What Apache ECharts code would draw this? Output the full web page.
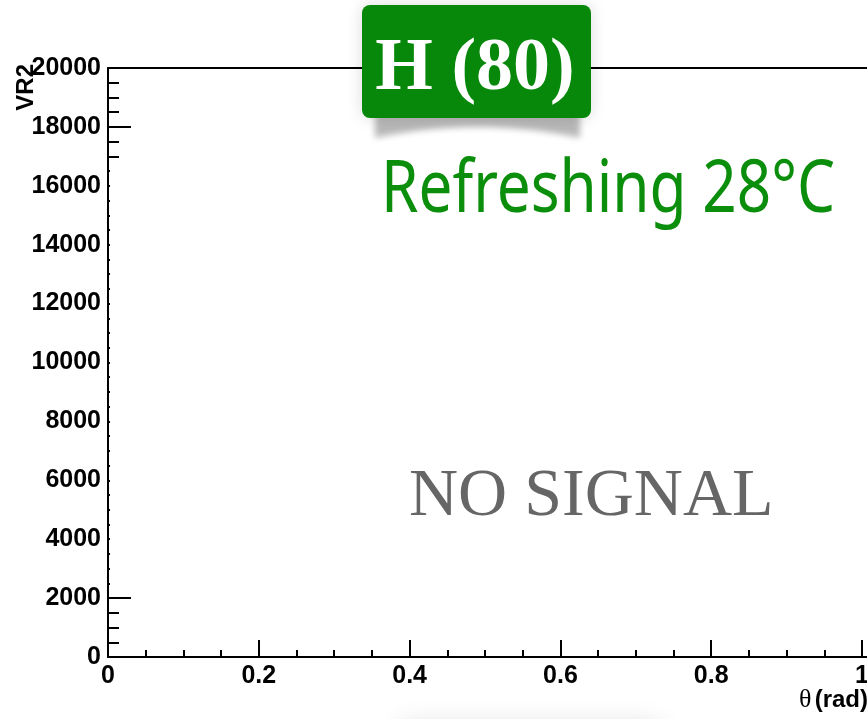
<!DOCTYPE html>
<html>
<head>
<meta charset="utf-8">
<script src="https://cdn.jsdelivr.net/npm/echarts@6/dist/echarts.min.js"></script>
<style>
  html, body { margin: 0; padding: 0; background: #fff; }
  #chart { width: 867px; height: 719px; }
</style>
</head>
<body>
<div id="chart"></div>
<script>
// θ axis (rad): labelled ticks and the small ticks between them
const xMajorTicks = [0, 0.2, 0.4, 0.6, 0.8, 1];
const xMinorTicks = [0.05, 0.1, 0.15, 0.25, 0.3, 0.35, 0.45, 0.5, 0.55,
                     0.65, 0.7, 0.75, 0.85, 0.9, 0.95];
// VR2 axis: labelled ticks and the small ticks between them
const yMajorTicks = [0, 2000, 4000, 6000, 8000, 10000, 12000, 14000, 16000, 18000, 20000];
const yMinorTicks = [500, 1000, 1500, 2500, 3000, 3500, 4500, 5000, 5500,
                     6500, 7000, 7500, 8500, 9000, 9500, 10500, 11000, 11500,
                     12500, 13000, 13500, 14500, 15000, 15500, 16500, 17000, 17500,
                     18500, 19000, 19500];
const xAxisMax = 1.0066;   // frame runs a hair past the last labelled tick
const yAxisMax = 20000;

// Received signal samples: nothing has arrived
const signalPoints = [];

// Overlay texts
const badgeText = 'H (80)';
const statusText = 'Refreshing 28°C';
const emptyText = 'NO SIGNAL';
const yTitle = 'VR2';

const BLACK = '#000';
const GREEN_BADGE = '#07880a';
const GREEN_TEXT = '#0b8e0b';

function measure(str, font) {
  const ctx = document.createElement('canvas').getContext('2d');
  ctx.font = font;
  return ctx.measureText(str).width;
}
const statusFont = '73px "Noto Sans"';
const statusScale = 454 / measure(statusText, statusFont);

const tickStyle = { color: BLACK, width: 2 };
const labelFont = {
  fontFamily: 'Liberation Sans', fontWeight: 'bold', fontSize: 25, color: BLACK,
  formatter: function (v) { return String(v); }
};

function valueAxis(extra) {
  return Object.assign({
    type: 'value',
    axisLine: { show: false },
    axisTick: { show: false },
    axisLabel: { show: false },
    splitLine: { show: false }
  }, extra);
}

// Badge shadow: a curled strip whose bottom edge lifts in the middle
function curlShadowPoints(x0, x1, top, sideBottom, midBottom, shift) {
  const pts = [[x0, top - shift], [x1, top - shift], [x1, sideBottom - shift]];
  const n = 24;
  for (let i = 1; i < n; i++) {
    const t = i / n;
    const x = x1 - (x1 - x0) * t;
    const y = sideBottom - (sideBottom - midBottom) * 4 * t * (1 - t);
    pts.push([x, y - shift]);
  }
  pts.push([x0, sideBottom - shift]);
  return pts;
}
const SHIFT = 1000;

const chart = echarts.init(document.getElementById('chart'), null, { renderer: 'canvas' });
chart.setOption({
  animation: false,
  backgroundColor: '#fff',
  grid: { left: 108, top: 68, right: 0, bottom: 62, containLabel: false, outerBoundsMode: 'none' },
  xAxis: [
    valueAxis({
      min: 0, max: xAxisMax, position: 'bottom',
      axisLine: { show: true, onZero: false, lineStyle: { color: BLACK, width: 2 } },
      axisTick: { show: true, inside: true, length: 17, customValues: xMajorTicks, lineStyle: tickStyle },
      axisLabel: Object.assign({ show: true, customValues: xMajorTicks, margin: 7 }, labelFont)
    }),
    valueAxis({
      min: 0, max: xAxisMax, position: 'bottom',
      axisTick: { show: true, inside: true, length: 7, customValues: xMinorTicks, lineStyle: tickStyle }
    }),
    valueAxis({
      min: 0, max: xAxisMax, position: 'top',
      axisLine: { show: true, onZero: false, lineStyle: { color: BLACK, width: 2 } }
    })
  ],
  yAxis: [
    valueAxis({
      min: 0, max: yAxisMax, position: 'left',
      axisLine: { show: true, onZero: false, lineStyle: { color: BLACK, width: 2 } },
      axisTick: { show: true, inside: true, length: 23, customValues: yMajorTicks, lineStyle: tickStyle },
      axisLabel: Object.assign({ show: true, customValues: yMajorTicks, margin: 7 }, labelFont)
    }),
    valueAxis({
      min: 0, max: yAxisMax, position: 'left',
      axisTick: { show: true, inside: true, length: 11, customValues: yMinorTicks, lineStyle: tickStyle }
    })
  ],
  series: [{
    type: 'line', xAxisIndex: 0, yAxisIndex: 0,
    data: signalPoints, showSymbol: false,
    lineStyle: { color: BLACK, width: 1 }
  }],
  graphic: [
    // white status panel over the plot area
    { type: 'rect', z: 100, shape: { x: 110, y: 165, width: 760, height: 427 },
      style: { fill: '#fff' } },
    // faint haze at the foot of the page
    { type: 'rect', z: 100, shape: { x: 400, y: 724, width: 260, height: 40 },
      style: { fill: '#fff', shadowBlur: 26, shadowColor: 'rgba(0,0,0,0.13)' } },
    // badge shadow (drawn off-canvas, only its blurred shadow lands under the badge)
    { type: 'polygon', z: 101,
      shape: { points: curlShadowPoints(375, 580, 100, 138, 127, SHIFT) },
      style: { fill: '#888', shadowBlur: 6, shadowOffsetY: SHIFT, shadowColor: 'rgba(0,0,0,0.28)' } },
    // badge
    { type: 'rect', z: 102, shape: { x: 362, y: 5, width: 229, height: 113, r: 8 },
      style: { fill: GREEN_BADGE, shadowBlur: 16, shadowColor: 'rgba(0,0,0,0.14)' } },
    { type: 'text', z: 103, x: 475, y: 70,
      style: { text: badgeText, font: 'bold 74px "Liberation Serif"', fill: '#fff',
               align: 'center', verticalAlign: 'middle', textAlign: 'center', textVerticalAlign: 'middle' } },
    // status line
    { type: 'text', z: 103, x: 381, y: 191, scaleX: statusScale, scaleY: 1,
      style: { text: statusText, font: statusFont, fill: GREEN_TEXT,
               align: 'left', verticalAlign: 'middle', textAlign: 'left', textVerticalAlign: 'middle' } },
    // empty-data message
    { type: 'text', z: 103, x: 409, y: 497,
      style: { text: emptyText, font: '68px "Liberation Serif"', fill: '#666',
               align: 'left', verticalAlign: 'middle', textAlign: 'left', textVerticalAlign: 'middle' } },
    // axis titles
    { type: 'text', z: 103, x: 26, y: 64, rotation: Math.PI / 2,
      style: { text: yTitle, font: 'bold 24px "Liberation Sans"', fill: BLACK,
               align: 'right', verticalAlign: 'middle', textAlign: 'right', textVerticalAlign: 'middle' } },
    { type: 'text', z: 103, x: 868, y: 700,
      style: { text: '{t|θ} {r|(rad)}', fill: BLACK,
               rich: {
                 t: { fontFamily: 'Liberation Serif', fontSize: 26, fill: BLACK },
                 r: { fontFamily: 'Liberation Sans', fontWeight: 'bold', fontSize: 24, fill: BLACK }
               },
               align: 'right', verticalAlign: 'middle', textAlign: 'right', textVerticalAlign: 'middle' } }
  ]
});
</script>
</body>
</html>
